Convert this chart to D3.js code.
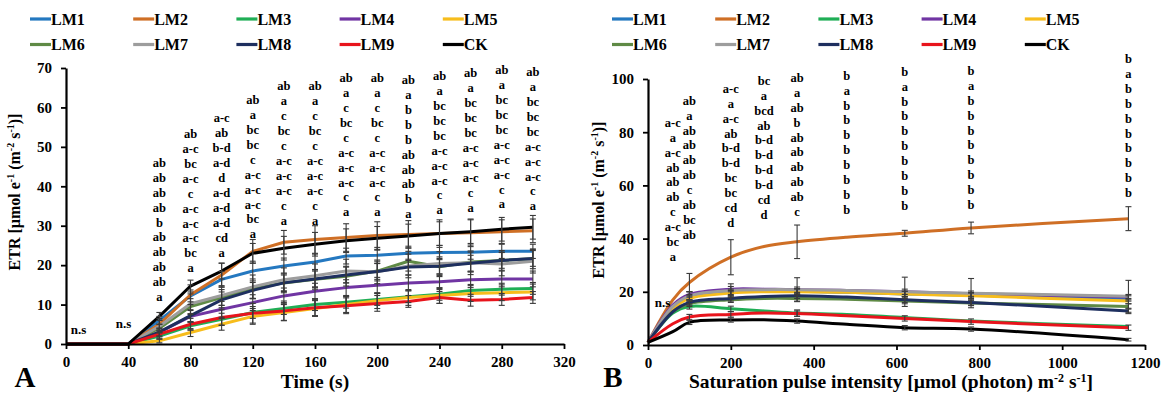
<!DOCTYPE html>
<html><head><meta charset="utf-8">
<script src="https://cdn.jsdelivr.net/npm/d3@7"></script>
<style>
body{margin:0;background:#fff}
text{font-family:"Liberation Serif","Times New Roman",serif;font-weight:bold;fill:#000}
</style>
</head><body>
<svg id="c" width="1176" height="394"></svg>
<script>
// ---------------- DATA ----------------
const seriesNames = ["LM1","LM2","LM3","LM4","LM5","LM6","LM7","LM8","LM9","CK"];
const seriesColors = ["#2478c0","#cf6f25","#1fae55","#7035a3","#f7bd1c","#5f8a45","#9d9d9d","#1e2f5f","#e8141c","#000000"];

// Panel A: time course
const timeA = [0,40,60,80,100,120,140,160,180,200,220,240,260,280,300];
const lm1A = [0,0,6,12.2,16.4,18.5,19.8,20.8,22.3,22.5,23,23.2,23.3,23.5,23.5];
const lm2A = [0,0,5,12.5,17.5,23.5,25.8,26.5,27,27.5,27.8,28,28.2,28.5,28.7];
const lm3A = [0,0,2,4.6,6.3,8,9,10,10.6,11.3,12,12.6,13.6,13.9,14.1];
const lm4A = [0,0,3,7,8.8,10.5,12.2,13.4,14.3,14.9,15.5,15.8,16.3,16.5,16.5];
const lm5A = [0,0,0.8,2.9,5,7,8,9,10,11,11.8,12.3,12.8,13,13.2];
const lm6A = [0,0,4,9.5,11.8,14,15.5,16.4,17.2,18.5,21,19.6,20.8,21.2,21.6];
const lm7A = [0,0,4.5,10.2,12.3,14.5,16.3,17.3,18.5,18.3,19.8,20.4,20.6,20.3,21];
const lm8A = [0,0,3,7.2,11.2,13.6,15.5,16.5,17.5,18.4,19.5,19.7,20.5,21.2,21.7];
const lm9A = [0,0,2.5,5,6.7,7.8,8.4,9.2,9.7,10.3,10.8,11.8,11.1,11.3,11.8];
const ckA  = [0,0,7,14.7,18.5,23,24.3,25.3,26.2,26.8,27.4,28,28.5,29.1,29.6];
const valuesA = [lm1A,lm2A,lm3A,lm4A,lm5A,lm6A,lm7A,lm8A,lm9A,ckA];

const errLm1A = [0,0,1,1.5,2,2.5,2,2,2,2,1.8,1.8,1.8,1.8,1.8];
const errLm2A = [0,0,1.5,2.5,3,3,3,3.5,3.5,3.5,3.5,3.5,3.5,3,3];
const errLm3A = [0,0,0.8,1,1.5,1.5,1.5,1.5,1.5,1.5,1.5,1.5,1.5,1.5,1.5];
const errLm4A = [0,0,1,1.5,2,2,2,2,2,2,2,2,2,2,2];
const errLm5A = [0,0,0.5,1,1.5,2,2,2,2,2,2,2,2,2,2];
const errLm6A = [0,0,1,2,2,2.5,2.5,2.5,2.5,2.5,2.5,2.5,2.5,2.5,2.5];
const errLm7A = [0,0,1.5,2.5,2.5,3,3,3,3,3,3,3,3,3,3];
const errLm8A = [0,0,1,1.5,2,2,2,2,2,2,2,2,2,2,2];
const errLm9A = [0,0,1,1.5,2,2.5,2.5,2,2,2,1.5,1.5,1.5,1.5,1.5];
const errCkA  = [0,0,1,1.5,2,2.5,3,3,3,3,3,3,3,3,3];
const errorsA = [errLm1A,errLm2A,errLm3A,errLm4A,errLm5A,errLm6A,errLm7A,errLm8A,errLm9A,errCkA];

const tickValuesXA = [0,40,80,120,160,200,240,280,320];
const tickValuesYA = [0,10,20,30,40,50,60,70];

const letterTimesA = [60,80,100,120,140,160,180,200,220,240,260,280,300];
const letterBaseA  = [11.9,19.2,23.2,27.8,31.3,31.3,33.4,33.4,32.9,33.9,34.6,35.4,34.9];
const lettersA = [
  ["ab","ab","ab","ab","b","ab","ab","ab","ab","a"],
  ["ab","a-c","bc","a-c","c","a-c","a-c","a-c","bc","a"],
  ["a-c","ab","b-d","a-d","d","a-d","a-d","a-d","cd","a"],
  ["ab","a","bc","bc","c","a-c","a-c","a-c","bc","a"],
  ["ab","a","c","bc","c","a-c","a-c","a-c","c","a"],
  ["ab","a","c","bc","c","a-c","a-c","a-c","c","a"],
  ["ab","a","c","bc","c","a-c","a-c","a-c","c","a"],
  ["ab","a","c","bc","c","a-c","a-c","a-c","c","a"],
  ["ab","a","b","b","b","ab","ab","ab","b","a"],
  ["ab","a","bc","bc","bc","a-c","a-c","a-c","c","a"],
  ["ab","a","bc","bc","bc","a-c","a-c","a-c","c","a"],
  ["ab","a","bc","bc","bc","a-c","a-c","a-c","c","a"],
  ["ab","a","bc","bc","bc","a-c","a-c","a-c","c","a"]
];
const nsA = [[8,3.8],[37,5.1]];

// Panel B: light response
const parB = [0,60,100,200,280,360,480,620,780,1160];
const lm1B = [1,14,18,20,20.3,20.2,19.8,19.2,18.7,17.5];
const lm2B = [1,17,23.5,33,37,38.8,40.5,42,44,47.5];
const lm3B = [1,12,14.5,13.6,12.8,12,11.5,10.3,9,7];
const lm4B = [1,15,19,21,21,20.8,20.5,20,19.3,18];
const lm5B = [1,13.5,17.5,19.5,20,20,19.8,19.2,18.5,16.5];
const lm6B = [1,12.5,15.5,17,17.5,17.5,17.2,16.5,15.8,14.5];
const lm7B = [1,14.5,18.5,20.5,20.8,20.8,20.5,20,19.5,18.3];
const lm8B = [1,12.5,16,17.5,18.2,18.5,18,17,16,12.8];
const lm9B = [1,8,10.5,11.5,12,11.8,11,10,8.8,6.5];
const ckB  = [1,5,8.5,9.4,9.5,9,7.8,6.5,6,2];
const valuesB = [lm1B,lm2B,lm3B,lm4B,lm5B,lm6B,lm7B,lm8B,lm9B,ckB];

const errLm1B = [0,0,1,1,0,1,0,1,1,1];
const errLm2B = [0,0,3.4,6.6,0,6.3,0,1.1,2.2,4.5];
const errLm3B = [0,0,1,1,0,1.2,0,0,0,0];
const errLm4B = [0,0,1,1,0,1,0,1,1,1];
const errLm5B = [0,0,1,1,0,1,0,1,1,1];
const errLm6B = [0,0,1,1,0,1,0,1,1,1];
const errLm7B = [0,0,1.5,2.5,0,4.5,0,5.5,5.5,6];
const errLm8B = [0,0,1,1,0,1,0,1,1,1];
const errLm9B = [0,0,1,1,0,1,0,1,1,1];
const errCkB  = [0,0,0.8,0.8,0,0.8,0,0.8,0.8,0.5];
const errorsB = [errLm1B,errLm2B,errLm3B,errLm4B,errLm5B,errLm6B,errLm7B,errLm8B,errLm9B,errCkB];

const tickValuesXB = [0,200,400,600,800,1000,1200];
const tickValuesYB = [0,20,40,60,80,100];

const letterParB  = [60,100,200,280,360,480,620,780,1160];
const letterBaseB = [33.1,41.4,45.9,48.9,50,50.8,52.3,52.6,57.1];
const lettersB = [
  ["a-c","a","a-c","ab","ab","ab","c","a-c","bc","a"],
  ["ab","a","ab","ab","ab","ab","c","ab","bc","ab"],
  ["a-c","a","a-c","ab","b-d","b-d","bc","bc","cd","d"],
  ["bc","a","bcd","ab","b-d","b-d","b-d","b-d","cd","d"],
  ["ab","a","ab","b","ab","ab","ab","ab","ab","c"],
  ["b","a","b","b","b","b","b","b","b","b"],
  ["b","a","b","b","b","b","b","b","b","b"],
  ["b","a","b","b","b","b","b","b","b","b"],
  ["b","a","b","b","b","b","b","b","b","b"]
];
const nsB = [[35,15.8]];

// ---------------- DRAW ----------------
const svg = d3.select("#c");

function panel(cfg){
  const g = svg.append("g");
  const x = d3.scaleLinear().domain(cfg.xDomain).range(cfg.xRange);
  const y = d3.scaleLinear().domain(cfg.yDomain).range(cfg.yRange);

  // lines
  const line = d3.line().x((d,i)=>x(cfg.xs[i])).y(d=>y(d)).curve(cfg.curve);
  cfg.values.forEach((vals,si)=>{
    g.append("path").attr("d", line(vals)).attr("fill","none")
      .attr("stroke", seriesColors[si]).attr("stroke-width",3)
      .attr("stroke-linejoin","round");
  });
  // error bars
  cfg.values.forEach((vals,si)=>{
    vals.forEach((v,i)=>{
      const e = cfg.errors[si][i];
      if(!e) return;
      const cx = x(cfg.xs[i]);
      const eg = g.append("g").attr("stroke","#3a3a3a").attr("stroke-width",1.1);
      eg.append("line").attr("x1",cx).attr("x2",cx).attr("y1",y(v-e)).attr("y2",y(v+e));
      eg.append("line").attr("x1",cx-3).attr("x2",cx+3).attr("y1",y(v-e)).attr("y2",y(v-e));
      eg.append("line").attr("x1",cx-3).attr("x2",cx+3).attr("y1",y(v+e)).attr("y2",y(v+e));
    });
  });

  // axes
  const ax = g.append("g").attr("transform",`translate(0,${cfg.yRange[0]})`)
    .call(d3.axisBottom(x).tickValues(cfg.xTicks).tickFormat(d3.format("d"))
      .tickSize(5).tickSizeOuter(0).tickPadding(7));
  const ay = g.append("g").attr("transform",`translate(${cfg.xRange[0]},0)`)
    .call(d3.axisLeft(y).tickValues(cfg.yTicks).tickFormat(d3.format("d"))
      .tickSize(5).tickSizeOuter(0).tickPadding(9));
  [ax,ay].forEach(a=>{
    a.select(".domain").attr("stroke","#000").attr("stroke-width",2.2);
    a.selectAll(".tick line").attr("stroke","#000").attr("stroke-width",1.8);
    a.selectAll(".tick text").style("font-family","'Liberation Serif',serif")
      .style("font-weight","bold").style("font-size","15px").attr("fill","#000");
  });

  // letters
  cfg.letters.forEach((col,ci)=>{
    const cx = x(cfg.letterXs[ci]);
    const by = y(cfg.letterBase[ci]);
    col.forEach((s,i)=>{
      g.append("text").attr("x",cx).attr("y",by-(col.length-1-i)*14.9)
        .attr("text-anchor","middle").attr("dominant-baseline","central")
        .style("font-size","12.5px").text(s);
    });
  });
  cfg.ns.forEach(p=>{
    g.append("text").attr("x",x(p[0])).attr("y",y(p[1]))
      .attr("text-anchor","middle").attr("dominant-baseline","central")
      .style("font-size","13px").text("n.s");
  });

  // y title
  const yt = g.append("text").attr("transform",`translate(${cfg.yTitleX},${cfg.yTitleY}) rotate(-90)`)
    .attr("text-anchor","middle").style("font-size","16px");
  const parts = [["ETR [µmol e",0],["-1",1],[" (m",0],["-2",1],[" s",0],["-1",1],[")]",0]];
  addParts(yt, parts, 10);

  // x title
  const xt = g.append("text").attr("x",cfg.xTitleX).attr("y",388)
    .attr("text-anchor","middle").style("font-size","19.5px");
  addParts(xt, cfg.xTitle, 12);

  // panel letter
  g.append("text").attr("x",cfg.panelX).attr("y",387).attr("text-anchor","middle")
    .style("font-size","29px").text(cfg.panelLabel);

  // legend
  const lg = g.append("g");
  seriesNames.forEach((n,i)=>{
    const col = i%5, row = Math.floor(i/5);
    const lx = cfg.legendX + col*103.2, ly = 19 + row*25.5;
    lg.append("line").attr("x1",lx).attr("x2",lx+21).attr("y1",ly).attr("y2",ly)
      .attr("stroke",seriesColors[i]).attr("stroke-width",3.2);
    lg.append("text").attr("x",lx+21).attr("y",ly).attr("dominant-baseline","central")
      .style("font-size","16px").text(n);
  });
}

function addParts(t, parts, supSize){
  let up = false;
  parts.forEach(([s,isSup])=>{
    const ts = t.append("tspan").text(s);
    if(isSup && !up){ ts.attr("dy",-6).style("font-size",supSize+"px"); up=true; }
    else if(isSup){ ts.style("font-size",supSize+"px"); }
    else if(!isSup && up){ ts.attr("dy",6); up=false; }
  });
}

panel({
  xDomain:[0,320], xRange:[66,564], yDomain:[0,70], yRange:[344,68],
  xs: timeA, values: valuesA, errors: errorsA, curve: d3.curveLinear,
  xTicks: tickValuesXA, yTicks: tickValuesYA,
  letters: lettersA, letterXs: letterTimesA, letterBase: letterBaseA, ns: nsA,
  yTitleX: 20, yTitleY: 192, xTitleX: 315, xTitle: [["Time (s)",0]],
  panelX: 25, panelLabel: "A", legendX: 30
});
panel({
  xDomain:[0,1200], xRange:[648,1145], yDomain:[0,100], yRange:[345,79],
  xs: parB, values: valuesB, errors: errorsB, curve: d3.curveCatmullRom.alpha(0.5),
  xTicks: tickValuesXB, yTicks: tickValuesYB,
  letters: lettersB, letterXs: letterParB, letterBase: letterBaseB, ns: nsB,
  yTitleX: 604, yTitleY: 200, xTitleX: 891,
  xTitle: [["Saturation pulse intensity [µmol (photon) m",0],["-2",1],[" s",0],["-1",1],["]",0]],
  panelX: 613, panelLabel: "B", legendX: 612
});
</script>
</body></html>
